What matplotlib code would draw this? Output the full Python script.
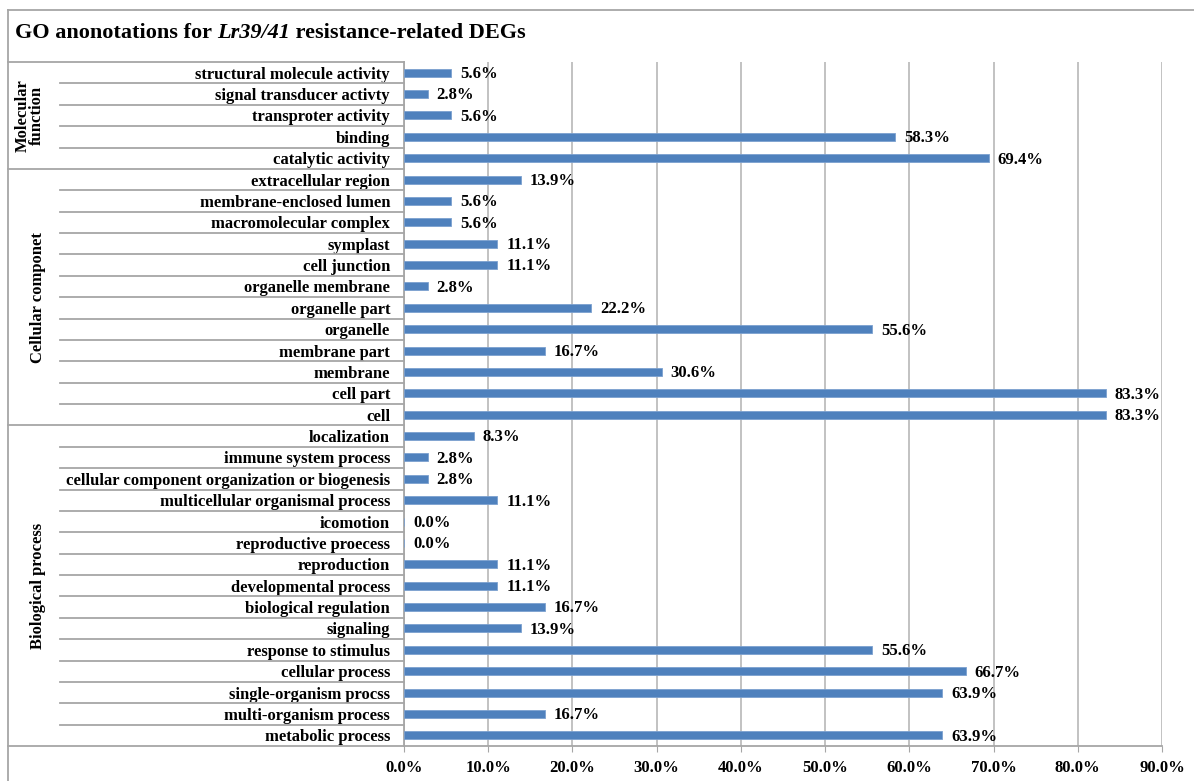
import numpy as np
import matplotlib
matplotlib.use("Agg")
import matplotlib.pyplot as plt
from matplotlib.transforms import blended_transform_factory

plt.rcParams['font.family'] = ['Liberation Serif', 'DejaVu Serif']
plt.rcParams['font.weight'] = 'bold'

# GO categories, listed top to bottom within each group
mf_terms = ["structural molecule activity", "signal transducer activty",
            "transproter activity", "binding", "catalytic activity"]
mf_pct = [5.6, 2.8, 5.6, 58.3, 69.4]

cc_terms = ["extracellular region", "membrane-enclosed lumen", "macromolecular complex",
            "symplast", "cell junction", "organelle membrane", "organelle part",
            "organelle", "membrane part", "membrane", "cell part", "cell"]
cc_pct = [13.9, 5.6, 5.6, 11.1, 11.1, 2.8, 22.2, 55.6, 16.7, 30.6, 83.3, 83.3]

bp_terms = ["localization", "immune system process",
            "cellular component organization or biogenesis",
            "multicellular organismal process", "icomotion", "reproductive proecess",
            "reproduction", "developmental process", "biological regulation",
            "signaling", "response to stimulus", "cellular process",
            "single-organism procss", "multi-organism process", "metabolic process"]
bp_pct = [8.3, 2.8, 2.8, 11.1, 0.0, 0.0, 11.1, 11.1, 16.7, 13.9, 55.6, 66.7,
          63.9, 16.7, 63.9]

groups = ["Molecular\nfunction", "Cellular componet", "Biological process"]
x_ticks = [0, 10, 20, 30, 40, 50, 60, 70, 80, 90]

terms = mf_terms + cc_terms + bp_terms
pct = mf_pct + cc_pct + bp_pct
sizes = [len(mf_terms), len(cc_terms), len(bp_terms)]

W, H = 1194, 781
fig = plt.figure(figsize=(W / 100, H / 100), dpi=100)
ax = fig.add_axes([404 / W, 1 - 746 / H, (1162 - 404) / W, (746 - 62) / H])

bar_color = "#4f81bd"
line_gray = "#a6a6a6"
fs = 12

ypos = np.arange(len(terms))
ax.barh(ypos, pct, height=0.38, color=bar_color, edgecolor="#7ba0cf", linewidth=0.6, zorder=3)
ax.set_ylim(len(terms) - 0.5, -0.5)
ax.set_xlim(0, 90)

for y, v in zip(ypos, pct):
    ax.annotate(f"{v:.1f}%", (v, y), xytext=(6.5, -1), textcoords="offset points",
                ha="left", va="center", fontsize=fs, fontweight="bold", zorder=4)

ax.set_xticks(x_ticks)
ax.set_xticklabels([f"{t:.1f}%" for t in x_ticks], fontsize=fs, fontweight="bold")
ax.tick_params(axis="x", length=4, color=line_gray, pad=6)
ax.set_yticks(ypos)
ax.set_yticklabels(terms, fontsize=fs, fontweight="bold")
ax.tick_params(axis="y", length=0, pad=10)

ax.grid(axis="x", color="#b8b8b8", linewidth=1.2, zorder=0)
for s in ["top", "right"]:
    ax.spines[s].set_visible(False)
for s in ["left", "bottom"]:
    ax.spines[s].set_color(line_gray)
    ax.spines[s].set_linewidth(1.3)
ax.spines["bottom"].set_bounds(0, 90)

# left-hand table: row rules and group rules
lab_x = (60 - 404) / (1162 - 404)
grp_x = (8 - 404) / (1162 - 404)
bounds = np.cumsum([0] + sizes) - 0.5
for b in np.arange(len(terms) + 1) - 0.5:
    if b in bounds:
        ax.axhline(b, xmin=grp_x, xmax=0, color=line_gray, lw=1.3, clip_on=False)
    else:
        ax.axhline(b, xmin=lab_x, xmax=0, color=line_gray, lw=1.3, clip_on=False)

tr = blended_transform_factory(ax.transAxes, ax.transData)
centers_x = [(30 - 404) / (1162 - 404), (38 - 404) / (1162 - 404), (38 - 404) / (1162 - 404)]
for g, b0, b1, cx in zip(groups, bounds[:-1], bounds[1:], centers_x):
    ax.text(cx, (b0 + b1) / 2, g, transform=tr, rotation=90, ha="center", va="center",
            fontsize=fs, fontweight="bold", linespacing=0.85)

# outer frame: top and left border
fig.add_artist(plt.Line2D([8 / W, 1], [1 - 10 / H, 1 - 10 / H], color=line_gray, lw=1.3))
fig.add_artist(plt.Line2D([8 / W, 8 / W], [0, 1 - 10 / H], color=line_gray, lw=1.3))

# title with italic gene name
fig.canvas.draw()
renderer = fig.canvas.get_renderer()
parts = [("GO anonotations for ", "normal"), ("Lr39/41", "italic"),
         (" resistance-related DEGs", "normal")]
x0 = 15 / W
for txt, style in parts:
    t = fig.text(x0, 1 - 33 / H, txt, fontsize=16, fontweight="bold", fontstyle=style,
                 ha="left", va="center")
    bb = t.get_window_extent(renderer)
    x0 += bb.width / W

fig.savefig("out.png", dpi=100)
